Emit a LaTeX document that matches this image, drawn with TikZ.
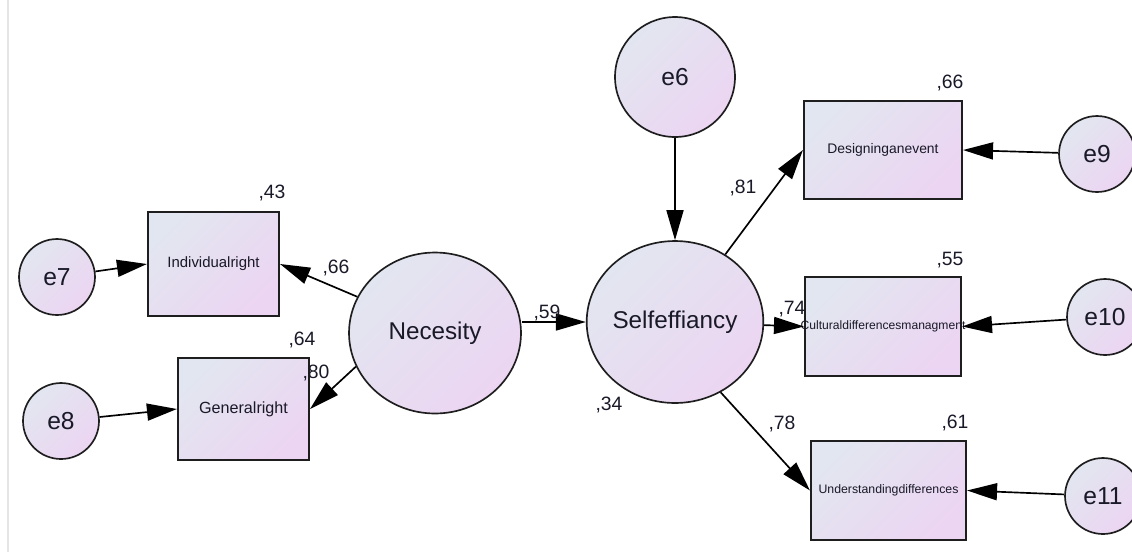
\documentclass[tikz,border=0pt]{standalone}
\usepackage{fontspec}
\setmainfont{Liberation Sans}
\usetikzlibrary{shapes.geometric,arrows.meta}
\definecolor{fillA}{RGB}{226,230,240}
\definecolor{fillB}{RGB}{236,213,242}
\definecolor{rim}{RGB}{30,30,30}
\definecolor{ink}{RGB}{25,25,40}

\begin{document}
\begin{tikzpicture}
	[
		x = 0.02cm, y = -0.02cm,
		paint/.style = {top color=fillA, bottom color=fillB, shading angle=45, draw=rim, text=ink},
		obs/.style = {paint, shape=rectangle, line width=1.2pt, inner sep=0pt},
		err/.style = {paint, shape=circle, line width=0.95pt, minimum size=1.52cm, inner sep=0pt, font=\fontsize{14}{14}\selectfont},
		lat/.style = {paint, shape=ellipse, line width=0.95pt, inner sep=0pt, font=\fontsize{13.8}{14}\selectfont},
		link/.style = {line width=0.95pt, draw=black, -{Triangle[length=0.6cm, width=0.34cm]}},
		coef/.style = {text=ink, font=\fontsize{11}{11}\selectfont, inner sep=0pt}
	]
	
	\clip (0,0) rectangle (1132,552);
	\draw [gray!20, line width=1.1pt] (8,0) -- (8,552);
	
	\node [err, minimum size=2.4cm] (e6) at (675,77) {e6};
	\node [lat, minimum width=3.06cm, minimum height=3.24cm] (self) at (675,322) {Selfeffiancy};
	\node [lat, minimum width=3.44cm, minimum height=3.22cm] (nec) at (435,333) {Necesity};
	
	\node [obs, minimum width=2.62cm, minimum height=2.08cm, font=\fontsize{8.5}{9}\selectfont] (indiv) at (213.5,264) {Individualright};
	\node [obs, minimum width=2.62cm, minimum height=2.04cm, font=\fontsize{9.2}{10}\selectfont] (gen) at (243.5,409) {Generalright};
	\node [obs, minimum width=3.16cm, minimum height=1.96cm, font=\fontsize{7.9}{9}\selectfont] (design) at (883,150) {Designinganevent};
	\node [obs, minimum width=3.12cm, minimum height=1.98cm, font=\fontsize{6.9}{8}\selectfont] (cult) at (883,326.5) {\makebox[0pt]{Culturaldifferencesmanagment}};
	\node [obs, minimum width=3.1cm, minimum height=1.98cm, font=\fontsize{7}{8}\selectfont] (und) at (888.5,490.5) {Understandingdifferences};
	
	\node [err] (e7) at (57,277) {e7};
	\node [err] (e8) at (61,421) {e8};
	\node [err] (e9) at (1097,154) {e9};
	\node [err] (e10) at (1105,317) {e10};
	\node [err] (e11) at (1103,496) {e11};
	
	\draw [link] (e7) -- (indiv.west);
	\draw [link] (e8) -- (gen.west);
	\draw [link] (nec.155) -- (indiv.east);
	\draw [link] (nec.203) -- (gen.east);
	\draw [link] (self.west -| nec.east) -- (self.west);
	\draw [link] (e6) -- (self);
	\draw [link] (self) -- (design.west);
	\draw [link] (self) -- (cult.west);
	\draw [link] (self.-57) -- (und.west);
	\draw [link] (e9) -- (design.east);
	\draw [link] (e10) -- (cult.east);
	\draw [link] (e11) -- (und.east);
	
	\node [coef] (r43) at (272,193) {,43};
	\node [coef] (r64) at (302,340) {,64};
	\node [coef] (r80) at (316,373) {,80};
	\node [coef] (w66) at (336,268) {,66};
	\node [coef] (w59) at (547,313) {,59};
	\node [coef] (r34) at (609,405) {,34};
	\node [coef] (w81) at (743,188) {,81};
	\node [coef] (w74) at (792,309) {,74};
	\node [coef] (w78) at (782,424) {,78};
	\node [coef] (r66) at (950,83) {,66};
	\node [coef] (r55) at (950,260) {,55};
	\node [coef] (r61) at (955,423) {,61};
\end{tikzpicture}
\end{document}
